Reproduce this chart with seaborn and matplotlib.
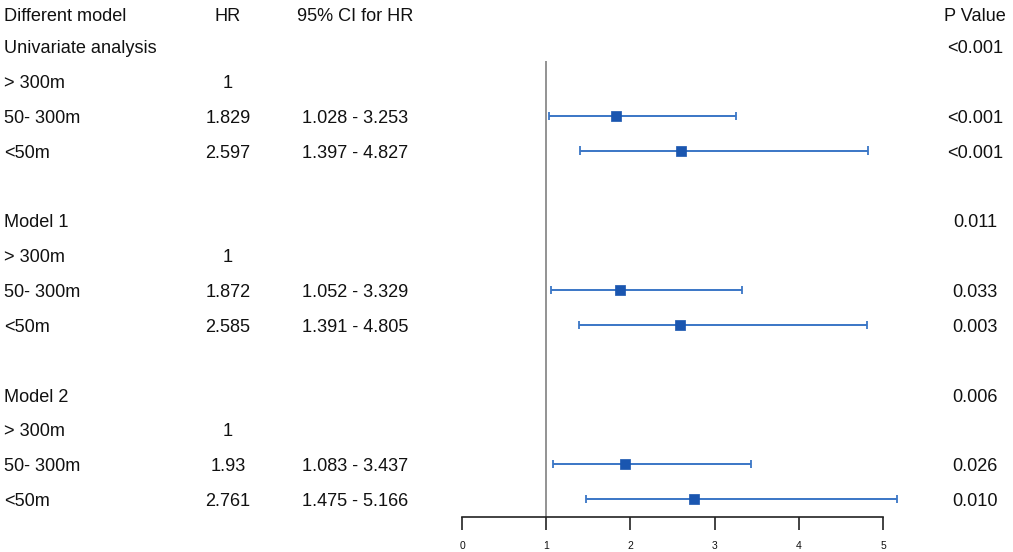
import matplotlib
matplotlib.use("Agg")
import matplotlib.pyplot as plt
import matplotlib.transforms as mtransforms
import seaborn as sns
import pandas as pd
import numpy as np

sns.set_theme(style="white")
plt.rcParams['font.family'] = ['Liberation Sans', 'DejaVu Sans']

# ---- data ----
labels = ["Univariate analysis", "> 300m", "50- 300m", "<50m", "",
          "Model 1", "> 300m", "50- 300m", "<50m", "",
          "Model 2", "> 300m", "50- 300m", "<50m"]
hr_text = ["", "1", "1.829", "2.597", "",
           "", "1", "1.872", "2.585", "",
           "", "1", "1.93", "2.761"]
ci_text = ["", "", "1.028 - 3.253", "1.397 - 4.827", "",
           "", "", "1.052 - 3.329", "1.391 - 4.805", "",
           "", "", "1.083 - 3.437", "1.475 - 5.166"]
p_text = ["<0.001", "", "<0.001", "<0.001", "",
          "0.011", "", "0.033", "0.003", "",
          "0.006", "", "0.026", "0.010"]
hr = [np.nan, np.nan, 1.829, 2.597, np.nan,
      np.nan, np.nan, 1.872, 2.585, np.nan,
      np.nan, np.nan, 1.93, 2.761]
lo = [np.nan, np.nan, 1.028, 1.397, np.nan,
      np.nan, np.nan, 1.052, 1.391, np.nan,
      np.nan, np.nan, 1.083, 1.475]
hi = [np.nan, np.nan, 3.253, 4.827, np.nan,
      np.nan, np.nan, 3.329, 4.805, np.nan,
      np.nan, np.nan, 3.437, 5.166]
headers = ["Different model", "HR", "95% CI for HR", "P Value"]
xticks = [0, 1, 2, 3, 4, 5]

rows = np.arange(1, len(labels) + 1)
df = pd.DataFrame({"row": rows, "hr": hr, "lo": lo, "hi": hi})
dfp = df.dropna()

W, H = 1013, 552
fig = plt.figure(figsize=(W / 100, H / 100), dpi=100)

# forest axes: x 0 at px 462, 5 at px 883; bottom at px 517
ax_left, ax_right = 462 / W, 883 / W
ax_bottom = 1 - 517 / H
ax = fig.add_axes([ax_left, ax_bottom, ax_right - ax_left, 1 - ax_bottom])
ax.set_xlim(0, 5)
row_h = 34.85
top_r = (0 - 46) / row_h + 1
bot_r = (517 - 46) / row_h + 1
ax.set_ylim(bot_r, top_r)

blue_line = "#3a76c6"
blue_mk = "#1a56b0"

ax.hlines(dfp["row"], dfp["lo"], dfp["hi"], color=blue_line, lw=1.4, clip_on=False, zorder=2)
cap = 0.12
ax.vlines(dfp["lo"], dfp["row"] - cap, dfp["row"] + cap, color=blue_line, lw=1.3, clip_on=False)
ax.vlines(dfp["hi"], dfp["row"] - cap, dfp["row"] + cap, color=blue_line, lw=1.3, clip_on=False)
sns.scatterplot(data=dfp, x="hr", y="row", marker="s", s=45, color=blue_mk,
                edgecolor=blue_mk, linewidth=0.5, ax=ax, zorder=3, clip_on=False, legend=False)

ref_top = (61 - 46) / row_h + 1
ax.vlines(1, ref_top, bot_r, color="#808080", lw=1.2, zorder=1)

for s in ["top", "right", "left"]:
    ax.spines[s].set_visible(False)
ax.spines["bottom"].set_color("#222222")
ax.spines["bottom"].set_linewidth(1.2)
ax.set_xticks(xticks)
ax.set_xticklabels([str(t) for t in xticks], fontsize=7.5, color="#111111")
ax.tick_params(axis="x", bottom=True, length=9, width=1.2, color="#222222", pad=8)
ax.set_yticks([])
ax.set_xlabel("")
ax.set_ylabel("")
ax.patch.set_alpha(0)

trans = mtransforms.blended_transform_factory(fig.transFigure, ax.transData)
fs = 13.1
col_x = [4 / W, 228 / W, 355 / W, 975 / W]
dy = 0.075
header_r = (14 - 46) / row_h + 1 + dy
fig_kw = dict(transform=trans, fontsize=fs, color="#111111", va="center", clip_on=False)
ax.text(col_x[0], header_r, headers[0], ha="left", **fig_kw)
ax.text(col_x[1], header_r, headers[1], ha="center", **fig_kw)
ax.text(col_x[2], header_r, headers[2], ha="center", **fig_kw)
ax.text(col_x[3], header_r, headers[3], ha="center", **fig_kw)
for r, lab, h, c, p in zip(rows, labels, hr_text, ci_text, p_text):
    ax.text(col_x[0], r + dy, lab, ha="left", **fig_kw)
    ax.text(col_x[1], r + dy, h, ha="center", **fig_kw)
    ax.text(col_x[2], r + dy, c, ha="center", **fig_kw)
    ax.text(col_x[3], r + dy, p, ha="center", **fig_kw)

fig.savefig("out.png", dpi=100, facecolor="white")
